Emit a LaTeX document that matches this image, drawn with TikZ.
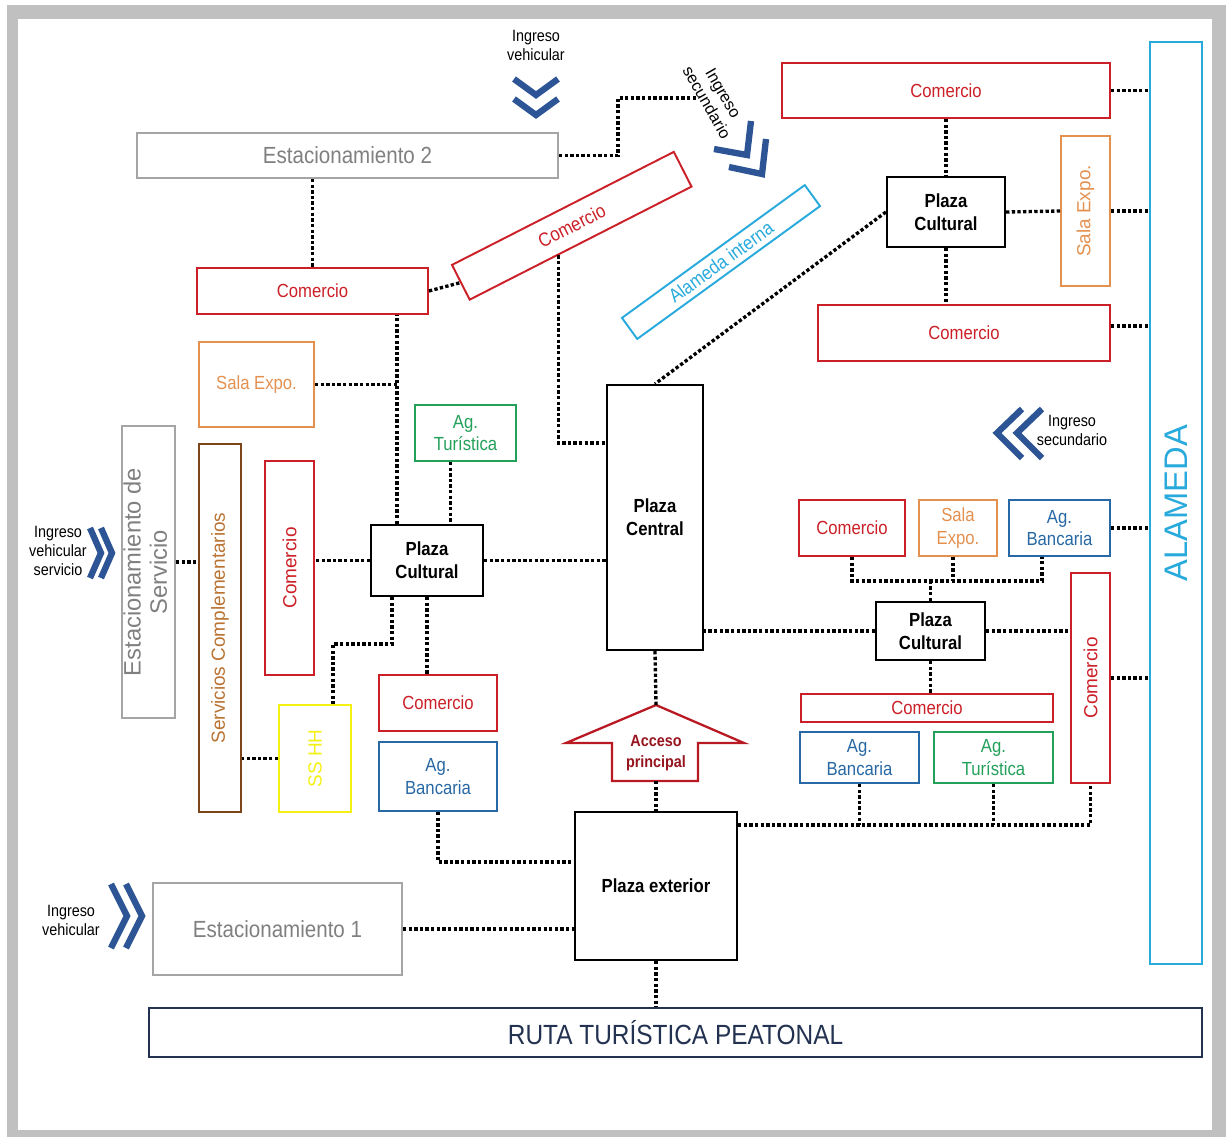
\documentclass[tikz,border=0pt]{standalone}
\usepackage{fontspec}
\setmainfont{Liberation Sans}[FakeStretch=0.88]
\newfontfamily\vfont{Liberation Sans}
\usetikzlibrary{calc, positioning}

\definecolor{cred}{RGB}{204,32,40}
\definecolor{corange}{RGB}{228,145,80}
\definecolor{cgreen}{RGB}{35,160,90}
\definecolor{cblue}{RGB}{40,105,165}
\definecolor{ccyan}{RGB}{40,170,220}
\definecolor{cgrayline}{RGB}{165,165,165}
\definecolor{cgray}{RGB}{128,128,128}
\definecolor{cbrown}{RGB}{125,70,25}
\definecolor{cbrowntext}{RGB}{185,115,50}
\definecolor{cyellow}{RGB}{245,240,20}
\definecolor{cnavy}{RGB}{35,50,80}
\definecolor{cchev}{RGB}{45,85,150}
\definecolor{cacc}{RGB}{185,25,35}
\definecolor{cacctext}{RGB}{150,20,30}
\definecolor{cframe}{RGB}{192,192,192}

\newcommand{\vtext}[1]{\rotatebox{90}{\vfont #1}}

\begin{document}
\begin{tikzpicture}[x=0.02cm, y=-0.02cm,
    cell/.style={draw, line width=1.1pt, inner sep=0pt, align=center, font=\fontsize{10.8}{13}\selectfont},
    com/.style={cell, draw=cred, text=cred},
    sala/.style={cell, draw=corange, text=corange},
    agtur/.style={cell, draw=cgreen, text=cgreen},
    agban/.style={cell, draw=cblue, text=cblue},
    plaza/.style={cell, draw=black, line width=1.3pt, font=\fontsize{10.8}{13}\selectfont\bfseries},
    park/.style={cell, draw=cgrayline, text=cgray, font=\fontsize{13.3}{15}\selectfont},
    link/.style={line width=1.9pt, dash pattern=on 1.9pt off 1.3pt},
    chev/.style={draw=cchev, line width=3.6pt, miter limit=10},
    note/.style={align=center, inner sep=0pt, font=\fontsize{9.3}{10.8}\selectfont}]

    \useasboundingbox (0,0) rectangle (1226,1137);
    \fill[cframe] (7,5) rectangle (1226,1137);
    \fill[white] (18,19) rectangle (1212,1130);

    % top row
    \node[park, minimum width=8.42cm, minimum height=0.9cm] (est2) at (347.5,155.5) {Estacionamiento 2};
    \node[com, minimum width=6.56cm, minimum height=1.1cm] (comTR) at (946,90.5) {Comercio};
    \node[cell, draw=ccyan, text=ccyan, minimum width=1.04cm, minimum height=18.44cm, font=\fontsize{18.6}{20}\selectfont] (alameda) at (1176,503) {\vtext{ALAMEDA}};
    \node[plaza, minimum width=2.36cm, minimum height=1.4cm] (pcTR) at (946,212) {Plaza\\Cultural};
    \node[sala, minimum width=0.98cm, minimum height=3cm] (salaTR) at (1085.5,211) {\vtext{Sala Expo.}};
    \node[com, minimum width=5.84cm, minimum height=1.12cm] (comR2) at (964,333) {Comercio};
    \node[cell, draw=ccyan, text=ccyan, rotate=36, minimum width=4.52cm, minimum height=0.52cm, font=\fontsize{11}{13}\selectfont] (alInt) at (721,262) {Alameda interna};
    \node[com, rotate=27, minimum width=4.98cm, minimum height=0.78cm, font=\fontsize{11}{13}\selectfont] (comRot) at (571.75,225.75) {Comercio};

    % left side
    \node[com, minimum width=4.62cm, minimum height=0.92cm] (comL) at (312.5,291) {Comercio};
    \node[sala, minimum width=2.3cm, minimum height=1.7cm] (salaL) at (256.5,384.5) {Sala Expo.};
    \node[agtur, minimum width=2.02cm, minimum height=1.12cm] (agTurL) at (465.5,433) {Ag.\\Turística};
    \node[plaza, minimum width=2.24cm, minimum height=1.42cm] (pcL) at (427,560.5) {Plaza\\Cultural};
    \node[com, minimum width=0.98cm, minimum height=4.28cm] (comV) at (289.5,568) {\vtext{Comercio}};
    \node[cell, draw=cbrown, text=cbrowntext, minimum width=0.84cm, minimum height=7.36cm] (servComp) at (220,628) {\vtext{Servicios Complementarios}};
    \node[park, minimum width=1.06cm, minimum height=5.84cm, font=\fontsize{13.5}{15}\selectfont] (estServ) at (148.5,572) {\vtext{\begin{tabular}{@{}c@{}}Estacionamiento de\\Servicio\end{tabular}}};
    \node[cell, draw=cyellow, text=cyellow, minimum width=1.44cm, minimum height=2.14cm] (sshh) at (315,758.5) {\vtext{SS HH}};
    \node[com, minimum width=2.36cm, minimum height=1.12cm] (comL2) at (438,703) {Comercio};
    \node[agban, minimum width=2.36cm, minimum height=1.38cm] (agBanL) at (438,776.5) {Ag.\\Bancaria};

    % centre and bottom
    \node[plaza, minimum width=1.92cm, minimum height=5.3cm] (central) at (655,517.5) {Plaza\\Central};
    \node[plaza, minimum width=3.24cm, minimum height=2.96cm] (pext) at (656,886) {Plaza exterior};
    \node[cell, draw=cnavy, text=cnavy, minimum width=21.06cm, minimum height=0.98cm, font=\fontsize{15.8}{18}\selectfont] (ruta) at (675.5,1032.5) {RUTA TURÍSTICA PEATONAL};
    \node[park, minimum width=4.98cm, minimum height=1.84cm] (est1) at (277.5,929) {Estacionamiento 1};

    \draw[line width=1.3pt, draw=cacc] (656,705) -- (744,743) -- (698,743) -- (698,781) -- (612,781) -- (612,743) -- (566,743) -- cycle;
    \node[inner sep=0pt, align=center, text=cacctext, font=\fontsize{9.3}{11.5}\selectfont\bfseries] (acceso) at (656,753) {Acceso\\principal};
    \coordinate (accTip) at (656,705);
    \coordinate (accFoot) at (656,781);

    % right bottom
    \node[com, minimum width=2.12cm, minimum height=1.12cm] (comRB) at (852,528) {Comercio};
    \node[sala, minimum width=1.56cm, minimum height=1.12cm] (salaRB) at (958,528) {Sala\\Expo.};
    \node[agban, minimum width=2.02cm, minimum height=1.12cm] (agBanRB) at (1059.5,528) {Ag.\\Bancaria};
    \node[plaza, minimum width=2.18cm, minimum height=1.16cm] (pcRB) at (930.5,631) {Plaza\\Cultural};
    \node[com, minimum width=0.78cm, minimum height=4.2cm] (comVR) at (1090.5,678) {\vtext{Comercio}};
    \node[com, minimum width=5.04cm, minimum height=0.56cm] (comLong) at (927,708) {Comercio};
    \node[agban, minimum width=2.38cm, minimum height=1.02cm] (agBanRB2) at (859.5,757.5) {Ag.\\Bancaria};
    \node[agtur, minimum width=2.38cm, minimum height=1.02cm] (agTurRB) at (993.5,757.5) {Ag.\\Turística};

    % entrances
    \node[note] (ingVeh) at (536,45) {Ingreso\\vehicular};
    \node[note, rotate=-60, font=\vfont\fontsize{9.3}{10.8}\selectfont] (ingSec) at (715,98) {Ingreso\\secundario};
    \node[note] (ingSecR) at (1072,430) {Ingreso\\secundario};
    \node[note] (ingServ) at (58,551) {Ingreso\\vehicular\\servicio};
    \node[note] (ingVeh1) at (71,920) {Ingreso\\vehicular};
    \coordinate (secEnd) at (698,98);

    \draw[chev] (514,79) -- (536,95) -- (558,79);
    \draw[chev] (514,99) -- (536,115) -- (558,99);
    \draw[chev] (751,121) -- (747,155) -- (714,149);
    \draw[chev] (766,139) -- (762,174) -- (729,167);
    \draw[chev] (90,528) -- (101,553) -- (90,578);
    \draw[chev] (101,528) -- (112,553) -- (101,578);
    \draw[chev] (111,884) -- (127,916) -- (111,948);
    \draw[chev] (126,884) -- (142,916) -- (126,948);
    \draw[chev] (1022,409) -- (997,433) -- (1022,458);
    \draw[chev] (1042,409) -- (1017,433) -- (1042,458);

    % links
    \draw[link] (est2.east) -- ++(59,0) |- (secEnd);
    \draw[link] (est2.south -| comL.north) -- (comL.north);
    \draw[link] (comL.east) -- (comRot.west);
    \draw[link] ($(pcL.north)+(-30,0)$) coordinate (pcLn) -- (pcLn |- comL.south);
    \draw[link] (salaL.east) -- (salaL.east -| pcLn);
    \draw[link] ($(agTurL.south)+(-15,0)$) coordinate (agTn) -- (agTn |- pcL.north);
    \draw[link] (pcL.west) -- (pcL.west -| comV.east);
    \draw[link] ($(estServ.east)+(0,-10)$) coordinate (esE) -- (esE -| servComp.west);
    \draw[link] (pcL.east) -- (pcL.east -| central.west);
    \draw[link] ($(comRot.south west)!0.4!(comRot.south east)$) |- ($(central.west)+(0,-74.5)$);
    \draw[link] (pcTR.west) -- (central.north);
    \draw[link] (comTR.south) -- (pcTR.north);
    \draw[link] (pcTR.south) -- (pcTR.south |- comR2.north);
    \draw[link] (pcTR.east) -- (salaTR.west);
    \draw[link] (salaTR.east) -- (salaTR.east -| alameda.west);
    \draw[link] (comTR.east) -- (comTR.east -| alameda.west);
    \draw[link] ($(comR2.east)+(0,-7)$) coordinate (c2e) -- (c2e -| alameda.west);
    \draw[link] (agBanRB.east) -- (agBanRB.east -| alameda.west);
    \draw[link] (comVR.east) -- (comVR.east -| alameda.west);
    \draw[link] (comRB.south) -- ++(0,24) coordinate (busTop) -| ($(agBanRB.south)+(-17.5,0)$);
    \draw[link] ($(salaRB.south)+(-5,0)$) coordinate (saS) -- (saS |- busTop);
    \draw[link] (pcRB.north) -- (pcRB.north |- busTop);
    \draw[link] (pcRB.west) -- (pcRB.west -| central.east);
    \draw[link] (pcRB.east) -- (pcRB.east -| comVR.west);
    \draw[link] (pcRB.south) -- (pcRB.south |- comLong.north);
    \draw[link] ($(pext.north east)+(0,14)$) coordinate (busLow) -| (comVR.south);
    \draw[link] (agBanRB2.south) -- (agBanRB2.south |- busLow);
    \draw[link] (agTurRB.south) -- (agTurRB.south |- busLow);
    \draw[link] (central.south) -- (accTip);
    \draw[link] (accFoot) -- (pext.north);
    \draw[link] (pext.south) -- (pext.south |- ruta.north);
    \draw[link] (est1.east) -- (est1.east -| pext.west);
    \draw[link] (agBanL.south) |- ($(pext.west)+(0,-24)$);
    \draw[link] ($(pcL.south)+(-35,0)$) |- ($(sshh.north)+(18,-60)$) -- ($(sshh.north)+(18,0)$);
    \draw[link] (pcL.south) -- (pcL.south |- comL2.north);
    \draw[link] (sshh.west) -- (sshh.west -| servComp.east);
\end{tikzpicture}
\end{document}
